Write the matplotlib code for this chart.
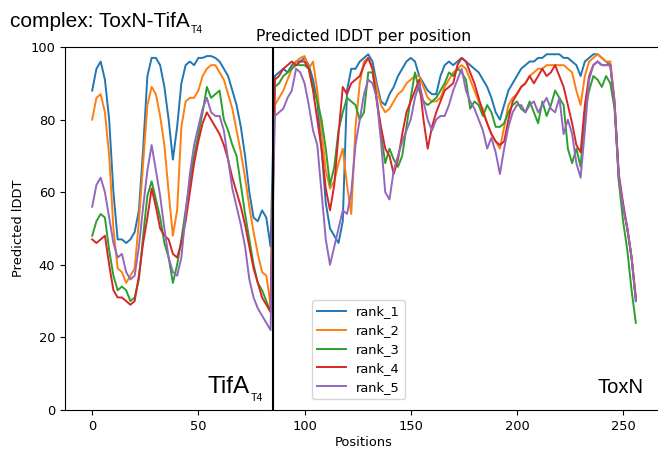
import matplotlib
matplotlib.use("Agg")
import matplotlib.pyplot as plt
import numpy as np

# residue positions (every 2nd one)
positions = list(range(0, 85, 2)) + list(range(86, 257, 2))
boundary = 85  # TifA_T4 | ToxN chain break

rank_1 = [
    88, 94, 96, 91, 80, 60, 47, 47, 46, 47, 49, 55, 72, 92, 97, 97, 95, 89, 80, 69,
    78, 90, 95, 96, 95, 97, 97, 97.5, 97.5, 97, 96, 94, 92, 88, 84, 78, 70, 60, 53, 52,
    55, 53, 45,
    92, 93, 94, 93, 95, 96, 96, 97, 95, 91,
    85, 72, 57, 50, 48, 46, 52, 88, 94, 94,
    96, 97, 98, 96, 90, 85, 84, 87, 89, 92,
    94, 96, 97, 96, 92, 90, 88, 87, 87, 92,
    95, 96, 95, 96, 97, 96, 95, 94, 93, 91,
    89, 86, 82, 80, 84, 88, 90, 92, 94, 95,
    96, 96, 97, 97, 98, 98, 98, 98, 97, 97,
    96, 95, 92, 96, 97, 98, 98, 97, 96, 95,
    85, 63, 56, 50, 42, 30,
]
rank_2 = [
    80, 86, 87, 82, 70, 50, 39, 38, 35, 37, 39, 52, 68, 84, 89, 87, 81, 73, 60, 48,
    55, 78, 85, 86, 86, 88, 92, 94, 95, 95, 93, 91, 87, 83, 77, 71, 64, 56, 49, 43,
    38, 37, 29,
    84, 86, 88, 91, 94, 96, 97, 97.5, 94, 96,
    88, 77, 66, 61, 63, 68, 72, 62, 54, 78,
    90, 96, 97, 94, 89, 84, 82, 83, 85, 87,
    88, 90, 91, 92, 92, 89, 86, 85, 85, 86,
    89, 91, 93, 94, 95, 94, 91, 88, 85, 83,
    79, 76, 74, 72, 78, 84, 86, 87, 89, 90,
    92, 93, 94, 94, 95, 95, 95, 95, 95, 94,
    93, 88, 84, 92, 96, 97, 98, 97, 96, 96,
    85, 64, 56, 50, 42, 31,
]
rank_3 = [
    48, 52, 54, 53, 44, 37, 33, 34, 33, 30, 31, 36, 48, 59, 63, 58, 53, 46, 42, 35,
    40, 47, 55, 63, 70, 76, 82, 89, 86, 87, 88, 80, 77, 73, 70, 62, 54, 47, 40, 35,
    33, 30, 27,
    89, 90, 92, 93, 94, 95, 95, 95, 94, 89,
    85, 80, 72, 62, 67, 77, 82, 86, 85, 84,
    80, 82, 93, 93, 86, 76, 68, 72, 69, 67,
    70, 78, 86, 93, 88, 85, 84, 85, 86, 88,
    90, 93, 92, 94, 93, 91, 83, 85, 84, 81,
    84, 82, 78, 78, 79, 82, 84, 85, 83, 82,
    85, 82, 79, 85, 81, 84, 88, 86, 84, 72,
    68, 72, 67, 82, 88, 92, 91, 89, 92, 90,
    83, 63, 52, 44, 33, 24,
]
rank_4 = [
    47, 46, 47, 48, 40, 33, 31, 31, 30, 29, 30, 37, 46, 53, 61, 56, 50, 48, 47, 43,
    42, 46, 52, 60, 68, 74, 79, 82, 80, 78, 76, 73, 69, 64, 60, 56, 51, 45, 39, 35,
    31, 29, 27,
    91, 92, 94, 95, 96, 95, 96, 96, 94, 88,
    80, 72, 61, 55, 62, 76, 89, 87, 90, 91,
    92, 95, 97, 94, 85, 78, 72, 70, 65, 69,
    76, 82, 85, 88, 91, 80, 72, 78, 82, 85,
    88, 89, 90, 95, 97, 96, 93, 90, 86, 82,
    79, 76, 74, 73, 74, 80, 85, 87, 89, 90,
    92, 90, 92, 94, 92, 93, 95, 92, 89, 84,
    79, 73, 71, 84, 92, 95, 96, 95, 95, 95,
    84, 65, 57, 50, 42, 31,
]
rank_5 = [
    56, 62, 64, 60, 53, 46, 42, 43, 38, 36, 37, 45, 56, 66, 73, 66, 59, 50, 42, 38,
    37, 42, 54, 65, 73, 78, 83, 86, 82, 81, 81, 77, 69, 61, 56, 51, 45, 36, 31, 28,
    26, 24, 22,
    81, 82, 83, 86, 88, 94, 93, 90, 84, 77,
    73, 60, 47, 40, 45, 50, 55, 54, 60, 73,
    80, 87, 91, 90, 86, 74, 60, 58, 66, 70,
    74, 77, 80, 86, 90, 85, 80, 77, 80, 81,
    81, 84, 88, 91, 94, 88, 85, 83, 80, 77,
    72, 75, 71, 65, 72, 78, 82, 84, 84, 82,
    84, 85, 82, 84, 86, 83, 82, 86, 76, 80,
    76, 68, 64, 77, 91, 95, 96, 95, 95, 95,
    84, 64, 56, 50, 42, 30,
]

series = [rank_1, rank_2, rank_3, rank_4, rank_5]
labels = ["rank_1", "rank_2", "rank_3", "rank_4", "rank_5"]

fig = plt.figure(figsize=(6.58, 4.57), dpi=100)
# the original is cropped on the right, so the axes runs past the edge
ax = fig.add_axes([65 / 658, 1 - 410 / 457, 598 / 658, 363 / 457])

for vals, lab in zip(series, labels):
    ax.plot(positions, vals, lw=1.4, label=lab)

ax.axvline(boundary, color="black", lw=1.5)
ax.set_ylim(0, 100)
ax.set_xlim(-12.8, 268.8)

ax.set_title("Predicted lDDT per position", fontsize=11.3, pad=4)
ax.set_xlabel("Positions", fontsize=9.4, labelpad=2)
ax.set_ylabel("Predicted lDDT", fontsize=9.4)
ax.tick_params(labelsize=9.4)

ax.legend(loc="lower left", bbox_to_anchor=(0.402, 0.012), fontsize=9.4,
          handlelength=2.2, labelspacing=0.45)


def with_sub(txt, sub, sub_size, dy):
    # small subscript hung off the lower right corner of a label
    ax.annotate(sub, xy=(1, 0), xycoords=txt, xytext=(0.6, dy),
                textcoords="offset points", va="baseline",
                family="Liberation Sans", fontsize=sub_size)


t1 = ax.text(0.239, 0.046, "TifA", transform=ax.transAxes, va="baseline",
             family="Liberation Sans", fontsize=17.5)
with_sub(t1, "T4", 7.7, -2.2)
ax.text(0.891, 0.047, "ToxN", transform=ax.transAxes, va="baseline",
        family="Liberation Sans", fontsize=14.5)

t2 = fig.text(10 / 658, 1 - 27 / 457, "complex: ToxN-TifA", va="baseline",
              family="Liberation Sans", fontsize=15)
with_sub(t2, "T4", 7.5, -1.4)

fig.savefig("out.png", dpi=100)
